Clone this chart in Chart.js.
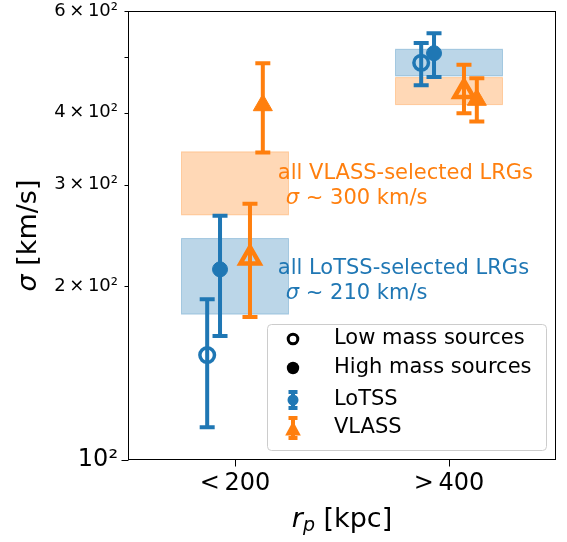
<!DOCTYPE html>
<html><head><meta charset="utf-8">
<script src="https://cdn.jsdelivr.net/npm/chart.js@4/dist/chart.umd.min.js"></script>
<style>html,body{margin:0;padding:0;background:#fff}#wrap{width:567px;height:542px;position:relative}</style>
</head><body><div id="wrap"><canvas id="c" width="567" height="542"></canvas></div>
<script>
// ---- data ----
const categories = ['<\u2009200', '>\u2009400'];
const yTickValues = [100, 200, 300, 400, 500, 600];
const yTickLabels = ['10\u00B2', '2\u2009\u00D7\u200910\u00B2', '3\u2009\u00D7\u200910\u00B2', '4\u2009\u00D7\u200910\u00B2', '', '6\u2009\u00D7\u200910\u00B2'];

const lotssLow      = [152, 488];
const lotssLowErrLo = [114, 446];
const lotssLowErrHi = [190, 528];

const lotssHigh      = [214, 507];
const lotssHighErrLo = [164, 461];
const lotssHighErrHi = [265, 549];

const vlassLow      = [224, 435];
const vlassLowErrLo = [177, 399];
const vlassLowErrHi = [278, 484];

const vlassHigh      = [412, 421];
const vlassHighErrLo = [341, 386];
const vlassHighErrHi = [487, 459];

const allLotssLo = [179, 463];
const allLotssHi = [242, 515];
const allVlassLo = [266, 413];
const allVlassHi = [342, 460];

const annotVlass = ['all VLASS-selected LRGs', '300 km/s'];
const annotLotss = ['all LoTSS-selected LRGs', '210 km/s'];
const legendLabels = ['Low mass sources', 'High mass sources', 'LoTSS', 'VLASS'];

// ---- style ----
const BLUE = '#1f77b4', ORANGE = '#ff7f0e';
const FONT = 'DejaVu Sans';
Chart.defaults.font.family = FONT;

const series = [
  {vals: lotssLow,  lo: lotssLowErrLo,  hi: lotssLowErrHi,  off: -0.13, color: BLUE,   open: true,  style: 'circle'},
  {vals: lotssHigh, lo: lotssHighErrLo, hi: lotssHighErrHi, off: -0.07, color: BLUE,   open: false, style: 'circle'},
  {vals: vlassLow,  lo: vlassLowErrLo,  hi: vlassLowErrHi,  off: 0.07,  color: ORANGE, open: true,  style: 'triangle'},
  {vals: vlassHigh, lo: vlassHighErrLo, hi: vlassHighErrHi, off: 0.13,  color: ORANGE, open: false, style: 'triangle'}
];

const datasets = series.map((s, k) => ({
  data: s.vals.map((v, i) => ({x: i + s.off, y: v})),
  pointStyle: s.style,
  pointRadius: s.style === 'circle' ? (s.open ? 7.3 : 7.5) : 11,
  pointBorderWidth: s.open ? (s.style === 'circle' ? 3.5 : 4.5) : 1,
  pointBackgroundColor: s.open ? 'rgba(0,0,0,0)' : s.color,
  pointBorderColor: s.color,
  showLine: false,
  order: series.length - k
}));

const boxes = [
  {lo: allLotssLo, hi: allLotssHi, fill: 'rgba(31,119,180,0.3)'},
  {lo: allVlassLo, hi: allVlassHi, fill: 'rgba(255,127,14,0.3)'}
];
const BOX_HALF = 0.25;

const annots = [
  {lines: annotVlass, x: 0.2, y: 314, color: ORANGE},
  {lines: annotLotss, x: 0.2, y: 215, color: BLUE}
];

const drawPlugin = {
  id: 'drawPlugin',
  beforeDatasetsDraw(chart) {
    const {ctx} = chart, x = chart.scales.x, y = chart.scales.y;
    ctx.save();
    boxes.forEach(b => {
      b.lo.forEach((lo, i) => {
        const x0 = x.getPixelForValue(i - BOX_HALF), x1 = x.getPixelForValue(i + BOX_HALF);
        const y0 = y.getPixelForValue(b.hi[i]), y1 = y.getPixelForValue(lo);
        ctx.fillStyle = b.fill;
        ctx.fillRect(x0, y0, x1 - x0, y1 - y0);
        ctx.strokeStyle = b.fill; ctx.lineWidth = 1;
        ctx.strokeRect(x0, y0, x1 - x0, y1 - y0);
      });
    });
    ctx.restore();
  },
  beforeDatasetDraw(chart, args) {
    const s = series[args.index]; if (!s) return;
    const {ctx} = chart, x = chart.scales.x, y = chart.scales.y;
    ctx.save();
    ctx.strokeStyle = s.color; ctx.lineWidth = 4; ctx.lineCap = 'butt';
    s.vals.forEach((v, i) => {
      const px = x.getPixelForValue(i + s.off);
      const top = y.getPixelForValue(s.hi[i]), bot = y.getPixelForValue(s.lo[i]);
      ctx.beginPath();
      ctx.moveTo(px, top); ctx.lineTo(px, bot);
      ctx.moveTo(px - 7.5, top); ctx.lineTo(px + 7.5, top);
      ctx.moveTo(px - 7.5, bot); ctx.lineTo(px + 7.5, bot);
      ctx.stroke();
    });
    ctx.restore();
  },
  afterDatasetsDraw(chart) {
    const {ctx} = chart, x = chart.scales.x, y = chart.scales.y;
    ctx.save();
    ctx.textBaseline = 'middle'; ctx.textAlign = 'left';
    annots.forEach(a => {
      const px = x.getPixelForValue(a.x), py = y.getPixelForValue(a.y);
      ctx.fillStyle = a.color;
      ctx.font = '21px "' + FONT + '"';
      ctx.fillText(a.lines[0], px, py);
      const sx = px + 8, sy = py + 25;
      ctx.font = 'italic 21px "' + FONT + '"';
      ctx.fillText('\u03C3', sx, sy);
      const sw = ctx.measureText('\u03C3').width;
      ctx.font = '21px "' + FONT + '"';
      ctx.fillText(' ~ ' + a.lines[1], sx + sw, sy);
    });
    ctx.restore();
  },
  afterDraw(chart) {
    const {ctx, chartArea: ca} = chart, x = chart.scales.x, y = chart.scales.y;
    ctx.save();
    ctx.strokeStyle = '#000'; ctx.lineWidth = 1;
    ctx.strokeRect(ca.left + 0.5, ca.top + 0.5, ca.right - ca.left - 1, ca.bottom - ca.top - 1);
    ctx.beginPath();
    y.ticks.forEach(t => {
      const py = Math.round(y.getPixelForValue(t.value)) + 0.5;
      const len = t.value === 100 ? 7 : 4;
      ctx.moveTo(ca.left + 0.5, py); ctx.lineTo(ca.left + 0.5 - len, py);
    });
    x.ticks.forEach(t => {
      const px = Math.round(x.getPixelForValue(t.value)) + 0.5;
      ctx.moveTo(px, ca.bottom - 0.5); ctx.lineTo(px, ca.bottom - 0.5 + 7);
    });
    ctx.stroke();

    ctx.fillStyle = '#000'; ctx.textBaseline = 'middle'; ctx.textAlign = 'left';
    ctx.save();
    ctx.translate(29, (ca.top + ca.bottom) / 2);
    ctx.rotate(-Math.PI / 2);
    ctx.font = 'italic 27px "' + FONT + '"';
    const s1 = ctx.measureText('\u03C3').width;
    ctx.font = '27px "' + FONT + '"';
    const s2 = ctx.measureText(' [km/s]').width;
    let sx = -(s1 + s2) / 2;
    ctx.font = 'italic 27px "' + FONT + '"';
    ctx.fillText('\u03C3', sx, 0);
    ctx.font = '27px "' + FONT + '"';
    ctx.fillText(' [km/s]', sx + s1, 0);
    ctx.restore();
    const cx = (ca.left + ca.right) / 2, cy = 520;
    ctx.font = 'italic 27px "' + FONT + '"';
    const r1 = ctx.measureText('r').width;
    ctx.font = 'italic 19px "' + FONT + '"';
    const r2 = ctx.measureText('p').width;
    ctx.font = '27px "' + FONT + '"';
    const r3 = ctx.measureText(' [kpc]').width;
    let tx = cx - (r1 + r2 + r3) / 2;
    ctx.font = 'italic 27px "' + FONT + '"';
    ctx.fillText('r', tx, cy);
    ctx.font = 'italic 19px "' + FONT + '"';
    ctx.fillText('p', tx + r1, cy + 6);
    ctx.font = '27px "' + FONT + '"';
    ctx.fillText(' [kpc]', tx + r1 + r2, cy);

    const w = 279, h = 126;
    const bx = ca.right - 10 - w, by = ca.bottom - 10 - h;
    ctx.beginPath();
    ctx.roundRect(bx + 0.5, by + 0.5, w, h, 4);
    ctx.fillStyle = 'rgba(255,255,255,0.8)'; ctx.fill();
    ctx.strokeStyle = '#cccccc'; ctx.lineWidth = 1; ctx.stroke();
    const rows = [15, 44, 76, 104];
    const mx = bx + 26, tx2 = bx + 67;
    ctx.beginPath(); ctx.arc(mx, by + rows[0], 4.8, 0, Math.PI * 2);
    ctx.strokeStyle = '#000'; ctx.lineWidth = 3; ctx.stroke();
    ctx.beginPath(); ctx.arc(mx, by + rows[1], 6.2, 0, Math.PI * 2);
    ctx.fillStyle = '#000'; ctx.fill();
    const eb = (cyy, color, half) => {
      ctx.strokeStyle = color; ctx.lineWidth = 4;
      ctx.beginPath();
      ctx.moveTo(mx, cyy - half); ctx.lineTo(mx, cyy + half);
      ctx.moveTo(mx - 4.5, cyy - half); ctx.lineTo(mx + 4.5, cyy - half);
      ctx.moveTo(mx - 4.5, cyy + half); ctx.lineTo(mx + 4.5, cyy + half);
      ctx.stroke();
    };
    eb(by + rows[2], BLUE, 8);
    ctx.beginPath(); ctx.arc(mx, by + rows[2], 5.5, 0, Math.PI * 2);
    ctx.fillStyle = BLUE; ctx.fill();
    eb(by + rows[3], ORANGE, 10);
    const ty = by + rows[3] + 2, tr = 9;
    ctx.beginPath();
    ctx.moveTo(mx, ty - tr);
    ctx.lineTo(mx + tr * 0.87, ty + tr * 0.5 + 1);
    ctx.lineTo(mx - tr * 0.87, ty + tr * 0.5 + 1);
    ctx.closePath(); ctx.fillStyle = ORANGE; ctx.fill();
    ctx.fillStyle = '#000'; ctx.font = '21px "' + FONT + '"';
    legendLabels.forEach((l, i) => ctx.fillText(l, tx2, by + rows[i]));
    ctx.restore();
  }
};

new Chart(document.getElementById('c'), {
  type: 'scatter',
  data: {datasets},
  options: {
    responsive: false,
    animation: false,
    devicePixelRatio: 1,
    layout: {autoPadding: false, padding: {top: 11, right: 11, left: 0, bottom: 0}},
    plugins: {legend: {display: false}, tooltip: {enabled: false}},
    scales: {
      x: {
        type: 'linear', min: -0.5, max: 1.5, bounds: 'data',
        afterBuildTicks: s => { s.ticks = categories.map((c, i) => ({value: i})); },
        afterFit: s => { s.height = 82; s.paddingLeft = 0; s.paddingRight = 0; },
        grid: {display: false, drawTicks: false},
        border: {display: false},
        ticks: {
          padding: 9, color: '#000', maxRotation: 0, autoSkip: false,
          font: {size: 24, family: FONT},
          callback: v => categories[v]
        }
      },
      y: {
        type: 'logarithmic', min: 100, max: 600, bounds: 'data',
        afterBuildTicks: s => { s.ticks = yTickValues.map(v => ({value: v, major: v === 100})); },
        afterFit: s => { s.width = 128; s.paddingTop = 0; s.paddingBottom = 0; },
        grid: {display: false, drawTicks: false},
        border: {display: false},
        ticks: {
          padding: 10, color: '#000', autoSkip: false,
          font: ctx => ({family: FONT, size: (ctx.tick && ctx.tick.value === 100) ? 24 : 18}),
          callback: v => yTickLabels[yTickValues.indexOf(v)]
        }
      }
    }
  },
  plugins: [drawPlugin]
});
</script>
</body></html>
